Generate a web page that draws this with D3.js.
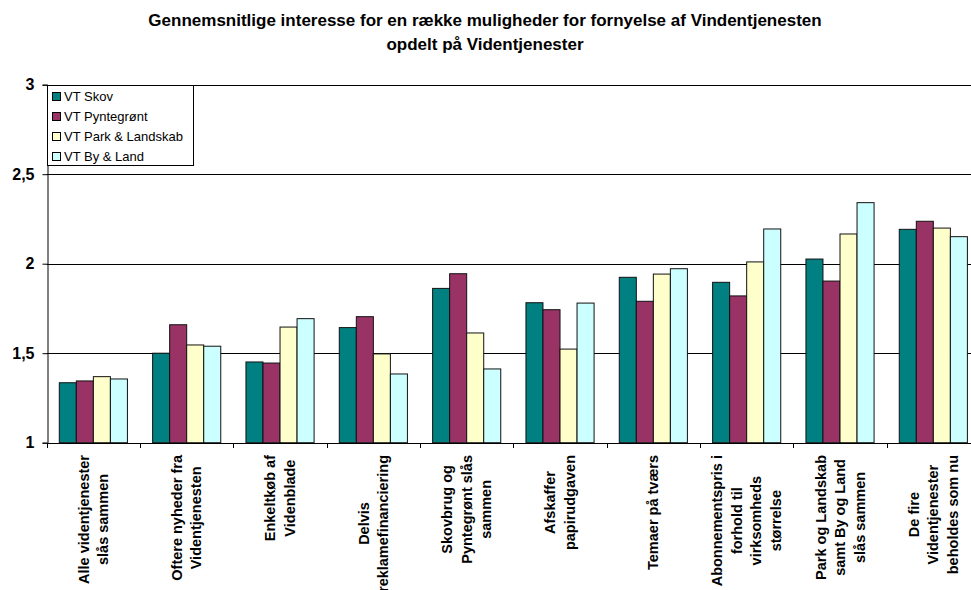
<!DOCTYPE html>
<html lang="da">
<head>
<meta charset="UTF-8">
<title>Gennemsnitlige interesse</title>
<style>
    body { margin: 0; background: #fff; }
    svg { display: block; font-family: Arial, "Liberation Sans", sans-serif; }
    .ylab { font-size: 16px; font-weight: bold; }
    .xlab { font-size: 14.5px; font-weight: bold; }
    .title { font-size: 17px; font-weight: bold; }
    .legend text { font-size: 13px; }
</style>
</head>
<body>
<svg id="chart" width="971" height="590"></svg>
<script src="https://d3js.org/d3.v7.min.js"></script>
<script>
const titleLines = [
    "Gennemsnitlige interesse for en række muligheder for fornyelse af Vindentjenesten",
    "opdelt på Videntjenester"
];

const categories = [
    ["Alle videntjenester", "slås sammen"],
    ["Oftere nyheder fra", "Videntjenesten"],
    ["Enkeltkøb af", "Videnblade"],
    ["Delvis", "reklamefinanciering"],
    ["Skovbrug og", "Pyntegrønt slås", "sammen"],
    ["Afskaffer", "papirudgaven"],
    ["Temaer på tværs"],
    ["Abonnementspris i", "forhold til", "virksomheds", "størrelse"],
    ["Park og Landskab", "samt By og Land", "slås sammen"],
    ["De fire", "Videntjenester", "beholdes som nu"]
];

const seriesNames = ["VT Skov", "VT Pyntegrønt", "VT Park & Landskab", "VT By & Land"];
const seriesColors = ["#008080", "#993366", "#FFFFCC", "#CCFFFF"];

const vtSkov        = [1.335, 1.500, 1.451, 1.643, 1.862, 1.782, 1.924, 1.896, 2.026, 2.192];
const vtPyntegroent = [1.345, 1.659, 1.445, 1.704, 1.944, 1.743, 1.790, 1.820, 1.903, 2.237];
const vtParkLand    = [1.369, 1.546, 1.646, 1.496, 1.613, 1.523, 1.942, 2.010, 2.166, 2.199];
const vtByLand      = [1.356, 1.539, 1.693, 1.384, 1.412, 1.780, 1.972, 2.194, 2.341, 2.151];
const seriesValues = [vtSkov, vtPyntegroent, vtParkLand, vtByLand];

const yTicks = [1, 1.5, 2, 2.5, 3];
const yTickLabels = ["1", "1,5", "2", "2,5", "3"];

const svg = d3.select("#chart");

// plot area (right edge runs past the window, as in the original)
const plotLeft = 46.7, plotRight = 980, plotTop = 84.7, plotBottom = 442.7;

const x0 = d3.scaleBand()
    .domain(d3.range(categories.length))
    .range([plotLeft, plotRight])
    .paddingInner(0.27)
    .paddingOuter(0.135);

const x1 = d3.scaleBand()
    .domain(d3.range(seriesNames.length))
    .range([0, x0.bandwidth()]);

const y = d3.scaleLinear().domain([1, 3]).range([plotBottom, plotTop]);

const step = (plotRight - plotLeft) / categories.length;

// title
svg.append("g").selectAll("text")
    .data(titleLines)
    .enter().append("text")
    .attr("class", "title")
    .attr("x", 485)
    .attr("y", (d, i) => 25.5 + i * 24)
    .attr("text-anchor", "middle")
    .text(d => d);

// gridlines
svg.append("g").selectAll("line")
    .data(yTicks.slice(1))
    .enter().append("line")
    .attr("x1", plotLeft).attr("x2", plotRight)
    .attr("y1", d => Math.round(y(d)) + 0.5)
    .attr("y2", d => Math.round(y(d)) + 0.5)
    .attr("stroke", "#000");

// bars
const groups = svg.append("g").selectAll("g")
    .data(categories.map((c, i) => seriesValues.map((s, j) => ({ s: j, v: s[i] }))))
    .enter().append("g")
    .attr("transform", (d, i) => `translate(${x0(i)},0)`);

groups.selectAll("rect")
    .data(d => d)
    .enter().append("rect")
    .attr("x", d => x1(d.s))
    .attr("y", d => y(d.v))
    .attr("width", x1.bandwidth())
    .attr("height", d => y(1) - y(d.v))
    .attr("fill", d => seriesColors[d.s])
    .attr("stroke", "#111")
    .attr("stroke-width", 1);

// y axis
const yAxis = d3.axisLeft(y)
    .tickValues(yTicks)
    .tickSize(5)
    .tickPadding(8)
    .tickFormat((d, i) => yTickLabels[i]);

const ya = svg.append("g")
    .attr("transform", `translate(${Math.round(plotLeft) + 0.5},0)`)
    .call(yAxis);
ya.attr("font-family", null).attr("font-size", null);
ya.select(".domain").attr("stroke", "#000");
ya.selectAll("text").attr("class", "ylab").attr("fill", "#000");

// x axis line with ticks at category boundaries
const xa = svg.append("g");
xa.append("line")
    .attr("x1", plotLeft).attr("x2", plotRight)
    .attr("y1", Math.round(plotBottom) + 0.5).attr("y2", Math.round(plotBottom) + 0.5)
    .attr("stroke", "#000");
xa.selectAll("line.tk")
    .data(d3.range(categories.length + 1))
    .enter().append("line")
    .attr("class", "tk")
    .attr("x1", i => Math.round(plotLeft + i * step) + 0.5)
    .attr("x2", i => Math.round(plotLeft + i * step) + 0.5)
    .attr("y1", Math.round(plotBottom))
    .attr("y2", Math.round(plotBottom) + 5)
    .attr("stroke", "#000");

// category labels, rotated, lines centred, block starts just below axis
const lh = 19.5;
const labels = svg.append("g").selectAll("g")
    .data(categories)
    .enter().append("g")
    .attr("transform", (d, i) => `translate(${plotLeft + (i + 0.5) * step},455) rotate(-90)`);

labels.each(function (lines) {
    const g = d3.select(this);
    const t = g.selectAll("text")
        .data(lines)
        .enter().append("text")
        .attr("class", "xlab")
        .attr("text-anchor", "middle")
        .attr("y", (d, i) => (i - (lines.length - 1) / 2) * lh + 5)
        .text(d => d);
    let maxW = 0;
    t.each(function () { maxW = Math.max(maxW, this.getComputedTextLength()); });
    t.attr("x", -maxW / 2);
});

// legend
const lg = svg.append("g").attr("class", "legend");
lg.append("rect")
    .attr("x", Math.round(plotLeft) + 0.5).attr("y", 85.5)
    .attr("width", 146).attr("height", 80)
    .attr("fill", "#fff").attr("stroke", "#000");

const items = lg.selectAll("g")
    .data(seriesNames)
    .enter().append("g")
    .attr("transform", (d, i) => `translate(52,${96 + i * 20})`);

items.append("rect")
    .attr("x", 0.5).attr("y", -3.5)
    .attr("width", 8).attr("height", 8)
    .attr("fill", (d, i) => seriesColors[i])
    .attr("stroke", "#000");

items.append("text")
    .attr("x", 12).attr("y", 5)
    .text(d => d);
</script>
</body>
</html>
